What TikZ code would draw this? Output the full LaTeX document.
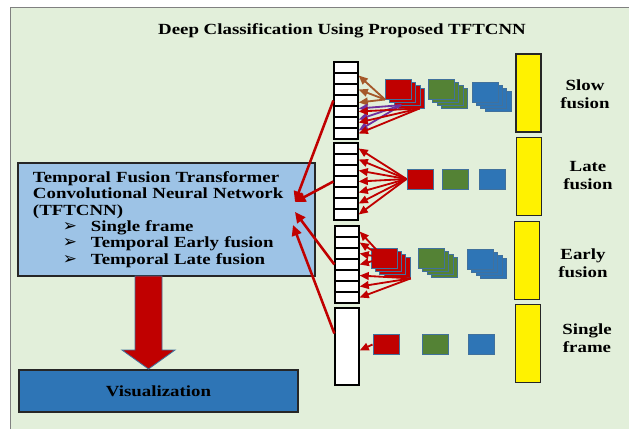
\documentclass[tikz,border=0pt]{standalone}
\usepackage{fontspec}
\setmainfont{Liberation Serif}[FakeStretch=1.22]
\newfontfamily\dingfont{DejaVu Sans}
\usetikzlibrary{positioning,calc,arrows.meta}
\definecolor{bggreen}{HTML}{E2EFDA}
\definecolor{boxblue}{HTML}{9DC3E6}
\definecolor{visblue}{HTML}{2E75B6}
\definecolor{deepred}{HTML}{C00000}
\definecolor{leafgreen}{HTML}{548235}
\definecolor{edgeblue}{HTML}{41719C}
\definecolor{brownarr}{HTML}{A5582A}
\definecolor{purplearr}{HTML}{7030A0}
\newcommand{\bul}{\hspace*{0.75cm}\makebox[0.7cm][l]{\dingfont\fontsize{12}{11.7}\selectfont ➢}}
\tikzstyle{mainbox} = [rectangle, draw=black!85, fill=boxblue, line width=1.1pt, minimum width=7.425cm, minimum height=2.825cm, text width=6.675cm, inner xsep=0.375cm, align=left]
\tikzstyle{visbox} = [rectangle, draw=black!85, fill=visblue, line width=1.1pt, minimum width=6.975cm, minimum height=1.05cm]
\tikzstyle{cell} = [rectangle, draw=black, fill=white, line width=0.9pt, minimum width=0.6cm, minimum height=0.275cm, inner sep=0pt]
\tikzstyle{ybar} = [rectangle, draw=black!85, fill=yellow, line width=1.1pt, minimum width=0.625cm, minimum height=1.95cm, inner sep=0pt]
\tikzstyle{feat} = [rectangle, draw=edgeblue, line width=0.7pt, minimum width=0.65cm, minimum height=0.5cm, inner sep=0pt]
\tikzstyle{barlabel} = [align=center, font=\bfseries\fontsize{11}{12.8}\selectfont]
\tikzstyle{fan} = [line width=1.3pt, -{Triangle[length=6.5pt,width=5.5pt]}]
\tikzstyle{back} = [draw=deepred, line width=1.8pt, -{Triangle[length=7.5pt,width=7pt]}]

\begin{document}
\begin{tikzpicture}[x=0.025cm, y=-0.025cm, font=\bfseries\fontsize{11}{11.7}\selectfont]
\useasboundingbox (0,0) rectangle (629,429);
\fill[bggreen] (10,7) rectangle (629,429);
\draw[gray, line width=0.6pt] (10,429) -- (10,7) -- (629,7);

\node (title) at (342,31) {Deep Classification Using Proposed TFTCNN};

\node[mainbox] (tft) at (166.5,219.5) {Temporal Fusion Transformer\\ Convolutional Neural Network\\ (TFTCNN)\\ \bul Single frame\\ \bul Temporal Early fusion\\ \bul Temporal Late fusion};
\node[visbox] (vis) at (158.5,391) {Visualization};
\fill[deepred, draw=edgeblue, line width=0.6pt] (135,276) -- (162,276) -- (162,350) -- (175,350) -- (148.5,369) -- (122,350) -- (135,350) -- cycle;

\foreach \i in {1,...,7} {
	\node[cell] (slow\i) at (346,56.5+11*\i) {};
	\node[cell] (late\i) at (346,137.5+11*\i) {};
	\node[cell] (early\i) at (347,220.5+11*\i) {};
}
\node[cell, minimum height=1.925cm] (sngl) at (347,346.5) {};

\node[ybar] (yslow) at (528.5,93) {};
\node[ybar] (ylate) at (529,176.5) {};
\node[ybar] (yearly) at (527,260.5) {};
\node[ybar] (ysingle) at (528,343.5) {};
\node[barlabel] (lslow) at (585,94) {Slow\\fusion};
\node[barlabel] (llate) at (588,176) {Late\\fusion};
\node[barlabel] (learly) at (583,263) {Early\\fusion};
\node[barlabel] (lsingle) at (587,338.5) {Single\\frame};

\foreach \k in {3,2,1} {
	\node[feat, fill=deepred] (slowred\k) at (398.5+4.4*\k,89+3.3*\k) {};
	\node[feat, fill=leafgreen] (slowgreen\k) at (441.5+4.4*\k,89+3.3*\k) {};
	\node[feat, fill=visblue] (slowblue\k) at (485+4.4*\k,92+3.3*\k) {};
	\node[feat, fill=deepred] (earlyred\k) at (384+4.4*\k,258+3.3*\k) {};
	\node[feat, fill=leafgreen] (earlygreen\k) at (431.5+4.4*\k,258+3.3*\k) {};
	\node[feat, fill=visblue] (earlyblue\k) at (480.5+4.4*\k,259+3.3*\k) {};
}
\node[feat, fill=deepred] (slowred) at (398.5,89) {};
\node[feat, fill=leafgreen] (slowgreen) at (441.5,89) {};
\node[feat, fill=visblue] (slowblue) at (485,92) {};
\node[feat, fill=deepred] (latered) at (420,179) {};
\node[feat, fill=leafgreen] (lategreen) at (455,179) {};
\node[feat, fill=visblue] (lateblue) at (492.5,179) {};
\node[feat, fill=deepred] (earlyred) at (384,258) {};
\node[feat, fill=leafgreen] (earlygreen) at (431.5,258) {};
\node[feat, fill=visblue] (earlyblue) at (480.5,259) {};
\node[feat, fill=deepred] (singlered) at (386,344.5) {};
\node[feat, fill=leafgreen] (singlegreen) at (435,344.5) {};
\node[feat, fill=visblue] (singleblue) at (481.5,344.5) {};

\draw[fan, draw=brownarr] (slowred.south west) -- ($(slow2.east)+(0,-3)$);
\draw[fan, draw=brownarr] (slowred.south west) -- (slow3.east);
\draw[fan, draw=brownarr] (slowred.south west) -- ($(slow4.east)+(0,2)$);
\foreach \i in {5,6,7}
	\draw[fan, draw=purplearr] ($(slowred2.south)+(-6,-1)$) -- ($(slow\i.east)+(0,-3)$);
\foreach \i in {5,6,7}
	\draw[fan, draw=deepred] ($(slowred3.south)+(8,-1)$) -- (slow\i.east);
\foreach \i in {1,...,7}
	\draw[fan, draw=deepred] (latered.west) -- (late\i.east);
\foreach \i in {1,...,4}
	\draw[fan, draw=deepred] (earlyred.center) -- (early\i.east);
\foreach \i in {5,6,7}
	\draw[fan, draw=deepred] (earlyred3.south east) -- (early\i.east);
\draw[fan, draw=deepred] (singlered.west) -- ($(sngl.east)+(0,4)$);

\coordinate (inA) at (295,202);
\coordinate (inB) at (295,212);
\coordinate (inC) at (293,225);
\draw[back] (slow4.west) -- (inA);
\draw[back] (late4.west) -- (inA);
\draw[back] (early4.west) -- (inB);
\draw[back] ($(sngl.west)+(0,-13)$) -- (inC);
\end{tikzpicture}
\end{document}
